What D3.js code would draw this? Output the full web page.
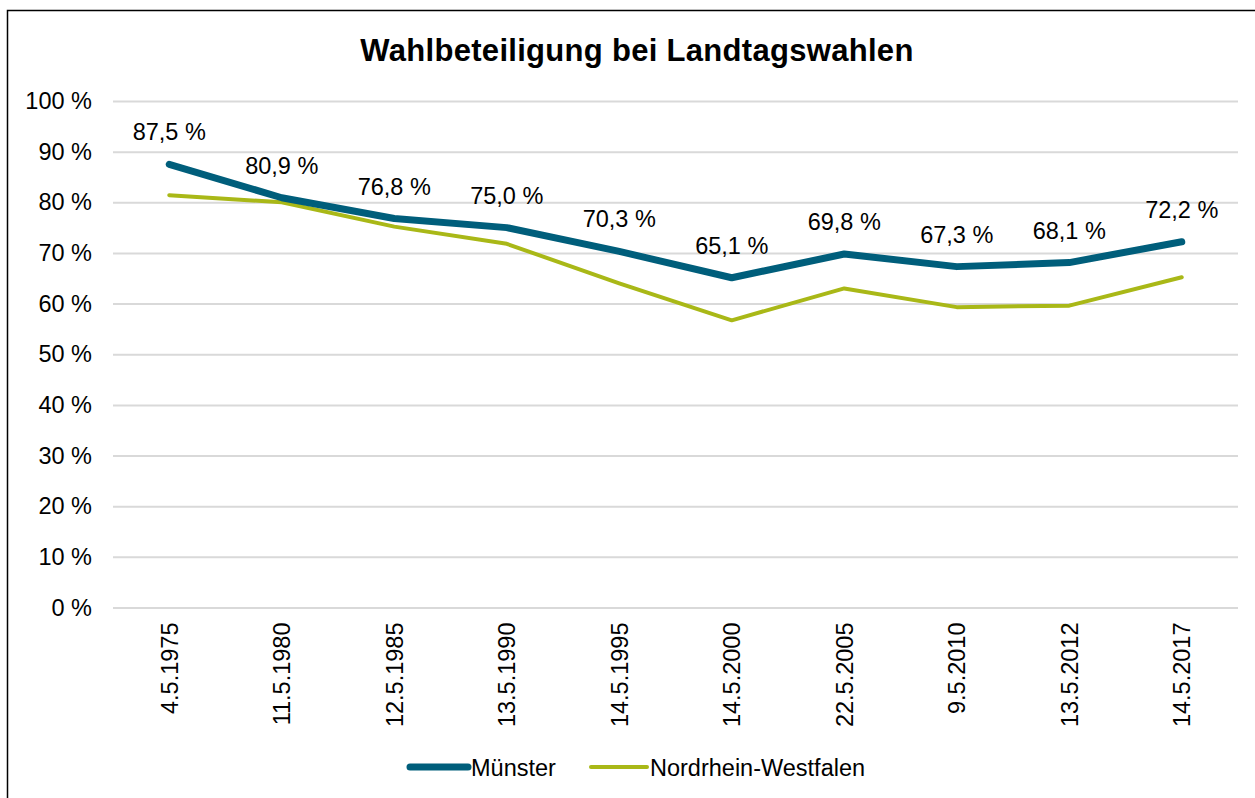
<!DOCTYPE html>
<html>
<head>
<meta charset="utf-8">
<script src="https://cdn.jsdelivr.net/npm/d3@7"></script>
<style>
  body { margin: 0; background: #fff; }
  text { font-family: "Liberation Sans", Arial, sans-serif; fill: #000; }
</style>
</head>
<body>
<svg id="chart" width="1255" height="798"></svg>
<script>
// election dates (x categories)
const dates = ["4.5.1975", "11.5.1980", "12.5.1985", "13.5.1990", "14.5.1995",
               "14.5.2000", "22.5.2005", "9.5.2010", "13.5.2012", "14.5.2017"];
// turnout in percent
const muenster = [87.5, 80.9, 76.8, 75.0, 70.3, 65.1, 69.8, 67.3, 68.1, 72.2];
const nrw = [81.4, 80.0, 75.2, 71.8, 64.0, 56.7, 63.0, 59.3, 59.6, 65.2];
const yTicks = [0, 10, 20, 30, 40, 50, 60, 70, 80, 90, 100];

const series = [
    { name: "Münster", values: muenster, color: "#005e7b", width: 7 },
    { name: "Nordrhein-Westfalen", values: nrw, color: "#a9b817", width: 4 }
];

const fs = 23.5; // body text size

const svg = d3.select("#chart");

// outer frame
svg.append("rect")
    .attr("x", 7.5).attr("y", 10.5)
    .attr("width", 1260).attr("height", 800)
    .attr("fill", "none").attr("stroke", "#000").attr("stroke-width", 1.5);

svg.append("text")
    .attr("x", 637).attr("y", 61)
    .attr("text-anchor", "middle")
    .attr("font-size", 31).attr("font-weight", "bold")
    .attr("letter-spacing", 0.3)
    .text("Wahlbeteiligung bei Landtagswahlen");

const x = d3.scaleBand().domain(dates).range([113, 1238]);
const y = d3.scaleLinear().domain([0, 100]).range([607.5, 101]);

// gridlines + y labels
const yAxis = svg.append("g")
    .attr("transform", "translate(113,0)")
    .call(d3.axisLeft(y).tickValues(yTicks).tickSize(-1125).tickPadding(21).tickFormat(d => d + " %"));
yAxis.select(".domain").remove();
yAxis.selectAll("line").attr("stroke", "#d9d9d9").attr("stroke-width", 2);
yAxis.selectAll("text").attr("font-size", fs).attr("font-family", "Liberation Sans, Arial, sans-serif").attr("fill", "#000");

// x labels, rotated
const xAxis = svg.append("g")
    .attr("transform", "translate(0,607.5)")
    .call(d3.axisBottom(x).tickSize(0).tickPadding(0));
xAxis.select(".domain").remove();
xAxis.selectAll("text")
    .attr("font-size", fs).attr("font-family", "Liberation Sans, Arial, sans-serif").attr("fill", "#000")
    .attr("transform", "rotate(-90)")
    .attr("text-anchor", "end")
    .attr("x", -15).attr("y", 0).attr("dy", "0.36em");

const line = d3.line()
    .x((d, i) => x(dates[i]) + x.bandwidth() / 2)
    .y(d => y(d));

// NRW drawn first so Münster sits on top
series.slice().reverse().forEach(s => {
    svg.append("path")
        .datum(s.values)
        .attr("d", line)
        .attr("fill", "none")
        .attr("stroke", s.color)
        .attr("stroke-width", s.width)
        .attr("stroke-linecap", "round")
        .attr("stroke-linejoin", "round");
});

// data labels for Münster
svg.append("g")
    .selectAll("text")
    .data(muenster)
    .join("text")
    .attr("x", (d, i) => x(dates[i]) + x.bandwidth() / 2)
    .attr("y", d => y(d) - 24)
    .attr("text-anchor", "middle")
    .attr("font-size", fs)
    .text(d => d3.format(".1f")(d).replace(".", ",") + " %");

// legend
const legend = svg.append("g");
const legendItems = [
    { s: series[0], x0: 410, x1: 468, tx: 471 },
    { s: series[1], x0: 591, x1: 647, tx: 650 }
];
legendItems.forEach(l => {
    legend.append("line")
        .attr("x1", l.x0).attr("x2", l.x1)
        .attr("y1", 767).attr("y2", 767)
        .attr("stroke", l.s.color).attr("stroke-width", l.s.width)
        .attr("stroke-linecap", "round");
    legend.append("text")
        .attr("x", l.tx).attr("y", 776)
        .attr("font-size", fs)
        .text(l.s.name);
});
</script>
</body>
</html>
